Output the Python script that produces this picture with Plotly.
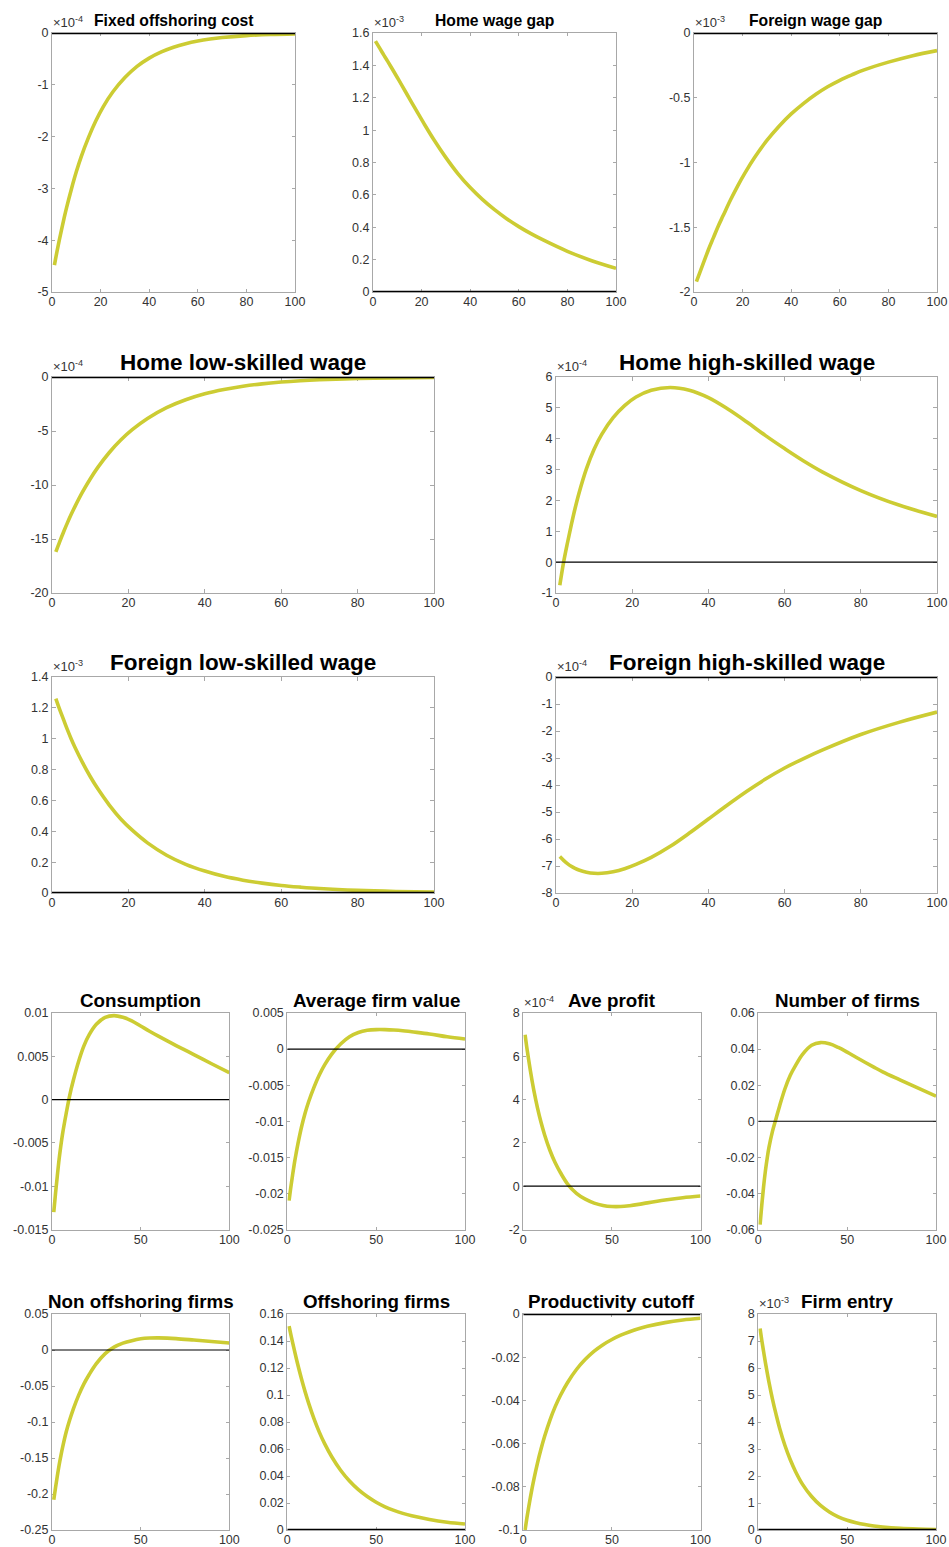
import plotly.graph_objects as go

W, H = 949, 1547

# horizon (periods)
T = [1, 2, 3, 4, 5, 6, 8, 10, 12, 15, 18, 21, 25, 30, 35, 40, 45, 50, 55, 60, 65, 70, 80, 90, 100]

# impulse responses (in the units shown on each axis, i.e. after the x10^k factor)
fixed_offshoring_cost = [-4.48, -4.23, -4.00, -3.78, -3.57, -3.37, -3.01, -2.68, -2.39, -2.02, -1.70, -1.43, -1.14,
                         -0.86, -0.645, -0.485, -0.365, -0.274, -0.206, -0.155, -0.117, -0.088, -0.050, -0.028, -0.016]
home_wage_gap = [1.55, 1.525, 1.5, 1.475, 1.45, 1.426, 1.376, 1.325, 1.273, 1.195, 1.117, 1.04, 0.942,
                 0.83, 0.73, 0.645, 0.572, 0.5085, 0.453, 0.404, 0.3605, 0.3215, 0.2515, 0.1935, 0.1465]
foreign_wage_gap = [-1.92, -1.87, -1.82, -1.77, -1.72, -1.67, -1.58, -1.49, -1.41, -1.29, -1.18, -1.08, -0.96,
                    -0.83, -0.72, -0.625, -0.545, -0.475, -0.415, -0.365, -0.323, -0.285, -0.225, -0.175, -0.136]
home_low_skilled_wage = [-16.2, -15.26, -14.37, -13.53, -12.74, -12.0, -10.64, -9.44, -8.37, -6.99, -5.84, -4.88, -3.84,
                         -2.84, -2.11, -1.56, -1.16, -0.86, -0.635, -0.47, -0.348, -0.26, -0.141, -0.078, -0.043]
home_high_skilled_wage = [-0.75, 0.0, 0.62, 1.2, 1.74, 2.22, 3.03, 3.66, 4.14, 4.68, 5.07, 5.35, 5.57,
                          5.66, 5.57, 5.33, 4.97, 4.55, 4.1, 3.68, 3.28, 2.92, 2.32, 1.85, 1.48]
foreign_low_skilled_wage = [1.26, 1.19, 1.125, 1.06, 1.0, 0.945, 0.845, 0.755, 0.675, 0.57, 0.48, 0.407, 0.325,
                            0.245, 0.186, 0.142, 0.108, 0.083, 0.064, 0.049, 0.038, 0.029, 0.017, 0.01, 0.006]
foreign_high_skilled_wage = [-6.65, -6.79, -6.91, -7.01, -7.09, -7.15, -7.23, -7.27, -7.27, -7.21, -7.1, -6.94, -6.68,
                             -6.27, -5.78, -5.26, -4.74, -4.24, -3.78, -3.37, -3.02, -2.7, -2.13, -1.68, -1.3]
consumption = [-0.013, -0.0108, -0.0088, -0.0069, -0.0053, -0.0039, -0.0016, 0.0005, 0.0022, 0.0044, 0.0062, 0.0075, 0.0087,
               0.0095, 0.0097, 0.0095, 0.0091, 0.0085, 0.0079, 0.00733, 0.00678, 0.00624, 0.0052, 0.00414, 0.0031]
average_firm_value = [-0.021, -0.0191, -0.0174, -0.0158, -0.0144, -0.0131, -0.0108, -0.0089, -0.0073, -0.0053, -0.0036, -0.0022, -0.0007,
                      0.0007, 0.0017, 0.0023, 0.0026, 0.0027, 0.0027, 0.00265, 0.00255, 0.0024, 0.0021, 0.0017, 0.0014]
ave_profit = [7.0, 6.4, 5.85, 5.33, 4.85, 4.4, 3.62, 2.95, 2.38, 1.66, 1.08, 0.62, 0.1,
              -0.33, -0.6, -0.78, -0.89, -0.94, -0.94, -0.9, -0.84, -0.77, -0.64, -0.53, -0.45]
number_of_firms = [-0.0573, -0.046, -0.036, -0.0275, -0.0205, -0.0145, -0.0055, 0.0015, 0.0085, 0.018, 0.0255, 0.031, 0.0372,
                   0.0421, 0.0436, 0.0429, 0.0409, 0.0383, 0.0355, 0.0327, 0.03, 0.0274, 0.0228, 0.0183, 0.0139]
non_offshoring_firms = [-0.208, -0.191, -0.175, -0.16, -0.147, -0.135, -0.114, -0.097, -0.082, -0.063, -0.047, -0.034, -0.019,
                        -0.005, 0.004, 0.0095, 0.013, 0.0155, 0.0166, 0.0168, 0.0165, 0.0158, 0.0138, 0.0117, 0.0097]
offshoring_firms = [0.151, 0.1448, 0.1388, 0.133, 0.1274, 0.122, 0.1118, 0.1025, 0.094, 0.0825, 0.0725, 0.064, 0.0543,
                    0.0443, 0.0363, 0.0299, 0.0248, 0.0206, 0.0172, 0.0145, 0.0123, 0.0105, 0.0078, 0.0058, 0.0044]
productivity_cutoff = [-0.1, -0.0946, -0.0896, -0.0849, -0.0805, -0.0764, -0.069, -0.0625, -0.0567, -0.0492, -0.0429, -0.0376, -0.0317,
                       -0.0257, -0.021, -0.0172, -0.0142, -0.0118, -0.0098, -0.0082, -0.0068, -0.0057, -0.004, -0.0028, -0.002]
firm_entry = [7.46, 7.01, 6.6, 6.2, 5.83, 5.48, 4.84, 4.28, 3.77, 3.13, 2.6, 2.16, 1.68,
              1.24, 0.91, 0.67, 0.49, 0.36, 0.27, 0.2, 0.148, 0.11, 0.06, 0.033, 0.018]

titles = ["Fixed offshoring cost", "Home wage gap", "Foreign wage gap",
          "Home low-skilled wage", "Home high-skilled wage",
          "Foreign low-skilled wage", "Foreign high-skilled wage",
          "Consumption", "Average firm value", "Ave profit", "Number of firms",
          "Non offshoring firms", "Offshoring firms", "Productivity cutoff", "Firm entry"]

series = [fixed_offshoring_cost, home_wage_gap, foreign_wage_gap,
          home_low_skilled_wage, home_high_skilled_wage,
          foreign_low_skilled_wage, foreign_high_skilled_wage,
          consumption, average_firm_value, ave_profit, number_of_firms,
          non_offshoring_firms, offshoring_firms, productivity_cutoff, firm_entry]

# power-of-ten factor printed above each axis (None = no factor)
exponents = [-4, -3, -3, -4, -4, -3, -4, None, None, -4, None, None, None, None, -3]

# y tick values and their labels
y_ticks = [
    [-5, -4, -3, -2, -1, 0],
    [0, 0.2, 0.4, 0.6, 0.8, 1, 1.2, 1.4, 1.6],
    [-2, -1.5, -1, -0.5, 0],
    [-20, -15, -10, -5, 0],
    [-1, 0, 1, 2, 3, 4, 5, 6],
    [0, 0.2, 0.4, 0.6, 0.8, 1, 1.2, 1.4],
    [-8, -7, -6, -5, -4, -3, -2, -1, 0],
    [-0.015, -0.01, -0.005, 0, 0.005, 0.01],
    [-0.025, -0.02, -0.015, -0.01, -0.005, 0, 0.005],
    [-2, 0, 2, 4, 6, 8],
    [-0.06, -0.04, -0.02, 0, 0.02, 0.04, 0.06],
    [-0.25, -0.2, -0.15, -0.1, -0.05, 0, 0.05],
    [0, 0.02, 0.04, 0.06, 0.08, 0.1, 0.12, 0.14, 0.16],
    [-0.1, -0.08, -0.06, -0.04, -0.02, 0],
    [0, 1, 2, 3, 4, 5, 6, 7, 8],
]
y_tick_labels = [
    ["-5", "-4", "-3", "-2", "-1", "0"],
    ["0", "0.2", "0.4", "0.6", "0.8", "1", "1.2", "1.4", "1.6"],
    ["-2", "-1.5", "-1", "-0.5", "0"],
    ["-20", "-15", "-10", "-5", "0"],
    ["-1", "0", "1", "2", "3", "4", "5", "6"],
    ["0", "0.2", "0.4", "0.6", "0.8", "1", "1.2", "1.4"],
    ["-8", "-7", "-6", "-5", "-4", "-3", "-2", "-1", "0"],
    ["-0.015", "-0.01", "-0.005", "0", "0.005", "0.01"],
    ["-0.025", "-0.02", "-0.015", "-0.01", "-0.005", "0", "0.005"],
    ["-2", "0", "2", "4", "6", "8"],
    ["-0.06", "-0.04", "-0.02", "0", "0.02", "0.04", "0.06"],
    ["-0.25", "-0.2", "-0.15", "-0.1", "-0.05", "0", "0.05"],
    ["0", "0.02", "0.04", "0.06", "0.08", "0.1", "0.12", "0.14", "0.16"],
    ["-0.1", "-0.08", "-0.06", "-0.04", "-0.02", "0"],
    ["0", "1", "2", "3", "4", "5", "6", "7", "8"],
]
x_ticks_fine = [0, 20, 40, 60, 80, 100]
x_ticks_coarse = [0, 50, 100]
X_RANGE = [0, 100]

# panel boxes in pixels: (left, right, top, bottom)
row1 = (33, 292)
row2 = (377, 593)
row3 = (677, 893)
row4 = (1013, 1229.5)
row5 = (1314, 1530)
cols3 = [(52, 295), (373, 616), (694, 937)]
cols2 = [(52, 434), (556, 937)]
cols4 = [(52, 229.3), (287.3, 465), (523.3, 700.5), (758.3, 936)]

boxes = ([(c[0], c[1], row1[0], row1[1]) for c in cols3]
         + [(c[0], c[1], row2[0], row2[1]) for c in cols2]
         + [(c[0], c[1], row3[0], row3[1]) for c in cols2]
         + [(c[0], c[1], row4[0], row4[1]) for c in cols4]
         + [(c[0], c[1], row5[0], row5[1]) for c in cols4])
title_sizes = [15.7] * 3 + [22.5] * 4 + [18.8] * 8
title_y = [21] * 3 + [362.5] * 2 + [662.5] * 2 + [1000] * 4 + [1301] * 4

LINE_COLOR = "rgb(204,204,51)"
FONT = "Liberation Sans, Arial, Helvetica, sans-serif"
BOX_COLOR = "#a8a8a8"
TEXT_COLOR = "#333333"


def px_x(v):
    return v / W


def px_y(v):
    return 1 - v / H


fig = go.Figure()
layout = dict(
    width=W, height=H, autosize=False,
    margin=dict(l=0, r=0, t=0, b=0, pad=0, autoexpand=False),
    paper_bgcolor="white", plot_bgcolor="white",
    showlegend=False,
    font=dict(family=FONT, size=12.5, color=TEXT_COLOR),
)
annotations = []

for i, (name, vals) in enumerate(zip(titles, series)):
    k = i + 1
    xa, ya = f"x{k}", f"y{k}"
    left, right, top, bottom = boxes[i]
    yt = y_ticks[i]
    yr = [yt[0], yt[-1]]
    xt = x_ticks_fine if i < 7 else x_ticks_coarse
    small = i < 3 or i >= 7

    common = dict(
        showline=True, linecolor=BOX_COLOR, linewidth=1, mirror="ticks",
        ticks="inside", ticklen=3 if small else 4, tickwidth=1, tickcolor=BOX_COLOR,
        showgrid=False, zeroline=False, layer="below traces", fixedrange=True,
        automargin=False,
        tickfont=dict(family=FONT, size=12.5, color=TEXT_COLOR),
    )
    layout[f"xaxis{k}"] = dict(
        common, domain=[px_x(left), px_x(right)], anchor=ya, range=X_RANGE,
        tickmode="array", tickvals=xt, ticktext=[str(v) for v in xt],
        ticklabelstandoff=-2,
    )
    layout[f"yaxis{k}"] = dict(
        common, domain=[px_y(bottom), px_y(top)], anchor=xa, range=yr,
        tickmode="array", tickvals=yt, ticktext=y_tick_labels[i],
    )

    fig.add_trace(go.Scatter(
        x=T, y=vals, xaxis=xa, yaxis=ya, mode="lines",
        line=dict(color=LINE_COLOR, width=3.6, shape="spline", smoothing=1.0),
        hoverinfo="skip",
    ))
    at_edge = yr[0] == 0 or yr[1] == 0
    fig.add_trace(go.Scatter(
        x=X_RANGE, y=[0, 0], xaxis=xa, yaxis=ya, mode="lines",
        line=dict(color="black", width=2.6 if at_edge else 1.2),
        hoverinfo="skip",
    ))

    annotations.append(dict(
        text=f"<b>{name}</b>", xref="paper", yref="paper",
        x=px_x((left + right) / 2), y=px_y(title_y[i]),
        xanchor="center", yanchor="middle", showarrow=False,
        font=dict(family=FONT, size=title_sizes[i], color="black"),
    ))
    if exponents[i] is not None:
        annotations.append(dict(
            text=f"\u00d710<sup>{exponents[i]}</sup>", xref="paper", yref="paper",
            x=px_x(left - 1), y=px_y(top - 1),
            xanchor="left", yanchor="bottom", showarrow=False,
            font=dict(family=FONT, size=13, color=TEXT_COLOR),
        ))

layout["annotations"] = annotations
fig.update_layout(**layout)
fig.write_html("out.html", config={"responsive": False, "displayModeBar": False},
               default_width=f"{W}px", default_height=f"{H}px")
